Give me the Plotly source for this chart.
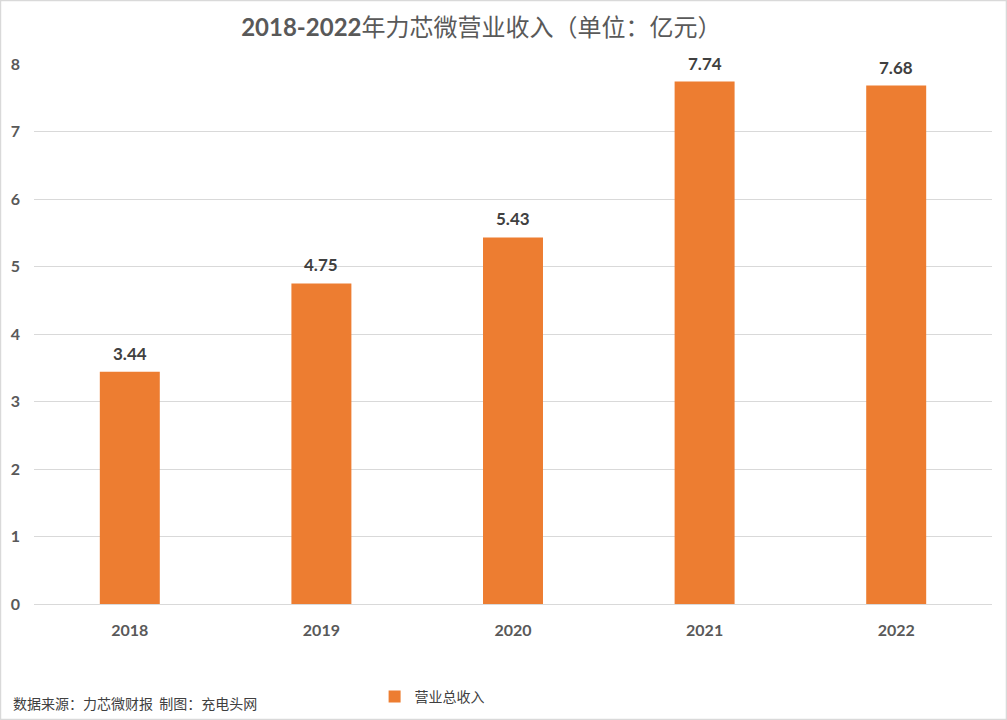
import plotly.graph_objects as go

years = ['2018', '2019', '2020', '2021', '2022']
revenue = [3.44, 4.75, 5.43, 7.74, 7.68]
y_ticks = [0, 1, 2, 3, 4, 5, 6, 7, 8]

FONT = 'Lato, "Noto Sans CJK SC", sans-serif'
CJK = '"Noto Sans CJK SC", sans-serif'

fig = go.Figure()
fig.add_trace(go.Bar(
    x=years,
    y=revenue,
    name='营业总收入',
    marker=dict(color='#ED7D31', line_width=0),
))

# value labels above the bars (x by category index, since '2018' reads as a number)
for i, v in enumerate(revenue):
    fig.add_annotation(
        x=i, y=v, text=f'<b>{v:.2f}</b>', showarrow=False,
        yanchor='bottom', yshift=6,
        font=dict(family=FONT, size=17, color='#404040'),
    )

fig.add_annotation(
    xref='paper', yref='paper', x=-0.024, y=-0.183,
    xanchor='left', yanchor='middle', showarrow=False,
    text='数据来源：力芯微财报  制图：充电头网',
    font=dict(family=CJK, size=14, color='#404040'),
)

# outer frame of the chart
fig.add_shape(
    type='rect', xref='paper', yref='paper',
    x0=-0.035, x1=1.0151, y0=-0.2139, y1=1.1176,
    line=dict(color='#D9D9D9', width=1.5),
)

fig.update_layout(
    width=1007, height=720,
    margin=dict(l=34, r=15, t=64, b=116, autoexpand=False),
    paper_bgcolor='white', plot_bgcolor='white',
    title=dict(
        text='<b>2018-2022</b>年力芯微营业收入（单位：亿元）',
        xref='container', x=0.478, xanchor='center',
        yref='container', y=0.962, yanchor='middle',
        font=dict(family=FONT, size=24, color='#595959'),
    ),
    bargap=0.687,
    showlegend=True,
    legend=dict(
        orientation='h', xref='container', yref='container',
        x=0.372, y=0.032, xanchor='left', yanchor='middle',
        font=dict(family=CJK, size=14, color='#404040'),
        itemwidth=30,
    ),
    xaxis=dict(
        type='category', automargin=False, range=[-0.5, len(years) - 0.5],
        showgrid=False, showline=True, linecolor='#D9D9D9', linewidth=1,
        tickfont=dict(family=FONT, size=16, color='#595959', weight='bold'),
        ticklabelstandoff=12,
    ),
    yaxis=dict(
        range=[0, 8], tickvals=y_ticks, automargin=False,
        showgrid=True, gridcolor='#D9D9D9', gridwidth=1,
        zeroline=False, showline=False,
        tickfont=dict(family=FONT, size=16, color='#595959', weight='bold'),
        ticklabelstandoff=13,
    ),
)

fig.write_html('out.html', config={'displayModeBar': False},
               post_script="document.body.style.margin='0';")
